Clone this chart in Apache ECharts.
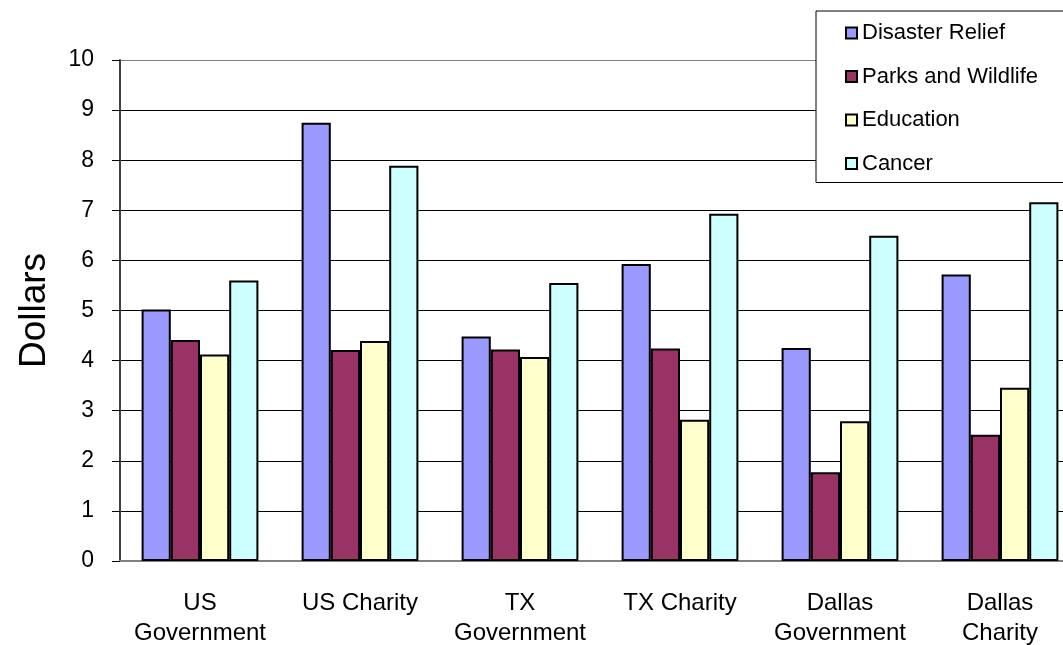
<!DOCTYPE html>
<html>
<head>
<meta charset="utf-8">
<script src="https://cdn.jsdelivr.net/npm/echarts@6/dist/echarts.min.js"></script>
<style>
  html, body { margin: 0; padding: 0; background: #fff; }
  #main { width: 1063px; height: 645px; }
</style>
</head>
<body>
<div id="main"></div>
<script>
const categories = ["US\nGovernment", "US Charity", "TX\nGovernment", "TX Charity", "Dallas\nGovernment", "Dallas\nCharity"];
const disasterRelief = [5.02, 8.75, 4.48, 5.93, 4.25, 5.72];
const parksWildlife = [4.41, 4.21, 4.22, 4.24, 1.77, 2.52];
const education = [4.12, 4.39, 4.07, 2.82, 2.79, 3.46];
const cancer = [5.60, 7.89, 5.55, 6.93, 6.49, 7.16];
const yTicks = [0, 1, 2, 3, 4, 5, 6, 7, 8, 9, 10];

const FONT = "Liberation Sans, Arial, sans-serif";

function bar(name, data, color) {
  return {
    name: name,
    type: "bar",
    data: data,
    barGap: "0%",
    barCategoryGap: "27%",
    itemStyle: { color: color, borderColor: "#000", borderWidth: 2 }
  };
}

// grid line colours, the top one is the grey plot border
const splitColors = yTicks.map((t, i) => (i === yTicks.length - 1 ? "#808080" : "#000"));

var myChart = echarts.init(document.getElementById("main"));
myChart.setOption({
  animation: false,
  textStyle: { fontFamily: FONT },
  grid: { left: 120, top: 60, width: 960, height: 501, outerBoundsMode: "none", containLabel: false },
  legend: {
    orient: "vertical",
    left: 816,
    top: 11,
    padding: [11, 60, 8, 29],
    itemGap: 21.5,
    itemWidth: 11,
    itemHeight: 11,
    icon: "rect",
    borderColor: "#000",
    borderWidth: 1,
    backgroundColor: "#fff",
    textStyle: { fontSize: 22, lineHeight: 22, color: "#000", fontFamily: FONT }
  },
  xAxis: {
    type: "category",
    data: categories,
    axisLine: { lineStyle: { color: "#808080", width: 2 } },
    axisTick: { length: 7, lineStyle: { color: "#000" } },
    axisLabel: { fontSize: 24, lineHeight: 30, color: "#000", margin: 27, interval: 0 }
  },
  yAxis: {
    type: "value",
    min: 0,
    max: 10,
    interval: 1,
    name: "Dollars",
    nameLocation: "middle",
    nameRotate: 90,
    nameGap: 67,
    nameTextStyle: { fontSize: 37, color: "#000" },
    axisLine: { show: true, lineStyle: { color: "#404040", width: 2 } },
    axisTick: { show: true, length: 8, lineStyle: { color: "#000" } },
    axisLabel: { fontSize: 23, color: "#000", margin: 26 },
    splitLine: { lineStyle: { color: splitColors, width: 1 } }
  },
  series: [
    bar("Disaster Relief", disasterRelief, "#9999FF"),
    bar("Parks and Wildlife", parksWildlife, "#993366"),
    bar("Education", education, "#FFFFCC"),
    bar("Cancer", cancer, "#CCFFFF")
  ]
});
</script>
</body>
</html>
